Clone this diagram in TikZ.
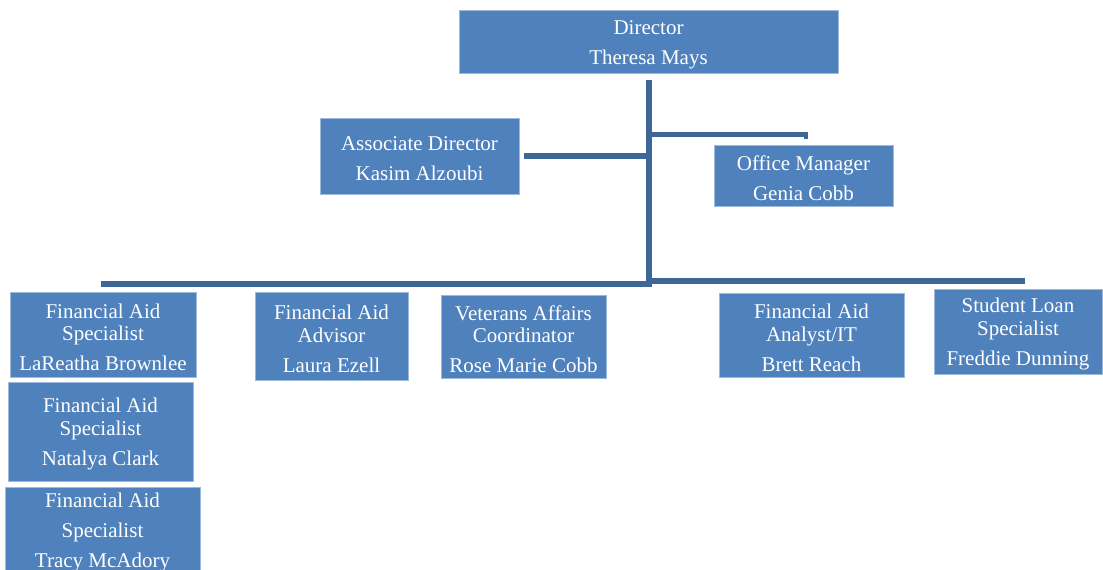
\documentclass[tikz,border=0pt]{standalone}
\usepackage{fontspec}
\setmainfont{Liberation Serif}
\definecolor{boxblue}{HTML}{4F81BD}
\definecolor{lineblue}{HTML}{3E6696}
\newcommand{\topgap}{\rule{0pt}{20pt}}
\tikzset{
  staffbox/.style={fill=boxblue, draw=boxblue!55!white, line width=0.8pt, text=white,
    align=center, inner sep=0pt, font=\fontsize{21}{22.5}\selectfont},
  link/.style={draw=lineblue, line width=5.5pt}
}

\begin{document}
\begin{tikzpicture}[x=1pt, y=-1pt]
\useasboundingbox (0,0) rectangle (1103,570);
% top level
\node[staffbox, minimum width=379pt, minimum height=63pt] (director) at (648.5,41.5) {\topgap Director\\[7.5pt]Theresa Mays};
\node[staffbox, minimum width=199pt, minimum height=76pt] (assoc) at (419.5,156) {\topgap Associate Director\\[7.5pt]Kasim Alzoubi};
\node[staffbox, minimum width=179pt, minimum height=61pt] (office) at (803.5,175.5) {\topgap Office Manager\\[7.5pt]Genia Cobb};
% staff row
\node[staffbox, minimum width=186pt, minimum height=85pt] (spec1) at (103,334.5) {\topgap Financial Aid\\Specialist\\[7.5pt]LaReatha Brownlee};
\node[staffbox, minimum width=185pt, minimum height=99pt] (spec2) at (100.5,431.5) {\topgap Financial Aid\\Specialist\\[7.5pt]Natalya Clark};
\node[staffbox, minimum width=195pt, minimum height=86pt] (spec3) at (102.5,530) {\topgap Financial Aid\\[7.5pt]Specialist\\[7.5pt]Tracy McAdory};
\node[staffbox, minimum width=153pt, minimum height=88pt] (advisor) at (331.5,336) {\topgap Financial Aid\\Advisor\\[7.5pt]Laura Ezell};
\node[staffbox, minimum width=165pt, minimum height=83pt] (veterans) at (523.5,336.5) {\topgap Veterans Affairs\\Coordinator\\[7.5pt]Rose Marie Cobb};
\node[staffbox, minimum width=185pt, minimum height=84pt] (analyst) at (811.5,335) {\topgap Financial Aid\\Analyst/IT\\[7.5pt]Brett Reach};
\node[staffbox, minimum width=168pt, minimum height=85pt] (loan) at (1018,331.5) {\topgap Student Loan\\Specialist\\[7.5pt]Freddie Dunning};
% connectors
\coordinate (hub) at (649,284);
\coordinate (busL) at (101,284);
\coordinate (busR) at (1025,281);
\draw[link] ([yshift=-7pt]director.south -| hub) -- ([yshift=-3pt]hub);
\draw[link] ([xshift=5pt]assoc.east) -- (assoc.east -| hub);
\draw[link, line width=4.5pt] ([yshift=10pt]office.north -| hub) -| ([xshift=2.5pt,yshift=6pt]office.north);
\draw[link] (busL) -- (hub);
\draw[link] (hub |- busR) -- (busR);
\end{tikzpicture}
\end{document}
